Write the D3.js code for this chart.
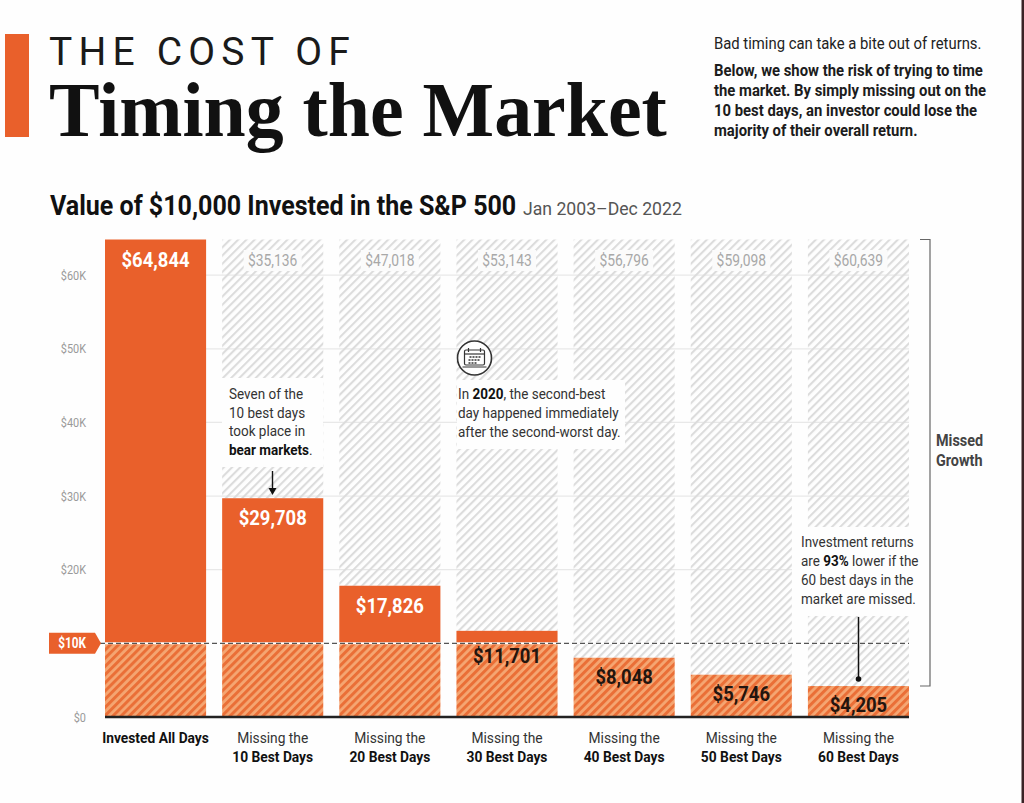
<!DOCTYPE html>
<html>
<head>
<meta charset="utf-8">
<script src="https://cdn.jsdelivr.net/npm/d3@7"></script>
<style>
  html, body { margin: 0; padding: 0; background: #fefefe; }
  svg { display: block; }
  text { font-family: Roboto, sans-serif; }
</style>
</head>
<body>
<div id="chart"></div>
<script>
//chart data
const categories = ["Invested All Days", "Missing the 10 Best Days", "Missing the 20 Best Days", "Missing the 30 Best Days", "Missing the 40 Best Days", "Missing the 50 Best Days", "Missing the 60 Best Days"];
const portfolioValues = [64844, 29708, 17826, 11701, 8048, 5746, 4205];
const missedGrowth = [null, 35136, 47018, 53143, 56796, 59098, 60639];
const yTicks = [0, 10000, 20000, 30000, 40000, 50000, 60000];
const principal = 10000;

//dimensions
const width = 1024;
const height = 803;
const orange = "#e9602b";
const squeeze = 0.84;
const noteSqueeze = 0.9;

let svg = d3.select("#chart").
append("svg").
attr("width", width).
attr("height", height);

//scales
const x = d3.scaleBand().domain(categories).range([105, 909]).paddingInner(0.137);
const y = d3.scaleLinear().domain([0, 64844]).range([717, 239.5]);

//hatch patterns
const defs = svg.append("defs");
function addHatch(id, base, stripe, stripeWidth) {
  const p = defs.append("pattern").
  attr("id", id).
  attr("patternUnits", "userSpaceOnUse").
  attr("width", 5.8).attr("height", 5.8).
  attr("patternTransform", "rotate(45)");
  p.append("rect").attr("width", 5.8).attr("height", 5.8).attr("fill", base);
  p.append("rect").attr("width", stripeWidth).attr("height", 5.8).attr("fill", stripe);
}
addHatch("hatch-grey", "none", "#dcdcdc", 2.1);
addHatch("hatch-orange", "#f5a672", "#ea6f37", 3);

//text helper, squeezes roboto so it reads as a condensed face
function label(parent, px, py, parts, opts = {}) {
  const sx = opts.sx === undefined ? squeeze : opts.sx;
  const t = parent.append("text").
  attr("transform", `translate(${px},${py}) scale(${sx},1)`).
  attr("text-anchor", opts.anchor || "start").
  attr("font-size", opts.size || 15).
  attr("font-weight", opts.weight || 400).
  attr("fill", opts.fill || "#333");
  if (opts.family) t.style("font-family", opts.family);
  if (opts.spacing) t.attr("letter-spacing", opts.spacing);
  [].concat(parts).forEach(p => {
    if (typeof p === "string") t.append("tspan").text(p);
    else t.append("tspan").attr("font-weight", 700).attr("fill", opts.boldFill || "#111").text(p.b);
  });
  return t;
}

//header
svg.append("rect").attr("x", 5).attr("y", 34).attr("width", 24).attr("height", 103).attr("fill", orange);
label(svg, 49, 65, "THE COST OF", { sx: 1, size: 39, spacing: 6.2, fill: "#1a1a1a" });
label(svg, 49, 136, "Timing the Market", { sx: 0.96, size: 79, weight: 700, fill: "#111", family: "'Liberation Serif', serif" });
label(svg, 714, 49, "Bad timing can take a bite out of returns.", { size: 16.5, sx: 0.9, fill: "#222" });
["Below, we show the risk of trying to time", "the market. By simply missing out on the", "10 best days, an investor could lose the", "majority of their overall return."].forEach((line, i) => {
  label(svg, 714, 76 + i * 20, line, { size: 16.5, sx: 0.9, weight: 700, fill: "#1c1c1c" });
});
label(svg, 50, 215, "Value of $10,000 Invested in the S&P 500", { size: 28, sx: 0.894, weight: 700, fill: "#111" });
label(svg, 523, 215, "Jan 2003–Dec 2022", { size: 18, sx: 0.98, fill: "#555" });

//gridlines
svg.append("g").selectAll("line").
data(yTicks.filter(d => d > 0)).
join("line").
attr("x1", 105).attr("x2", 909).
attr("y1", d => y(d)).attr("y2", d => y(d)).
attr("stroke", "#e8e8e8").attr("stroke-width", 1.2);

//y axis
const yAxis = d3.axisLeft(y).
tickValues(yTicks.filter(d => d !== principal)).
tickSize(0).
tickPadding(0).
tickFormat(d => d === 0 ? "$0" : `$${d / 1000}K`);
const yAxisG = svg.append("g").attr("transform", "translate(86,0)").call(yAxis);
yAxisG.select(".domain").remove();
yAxisG.selectAll("text").
attr("font-size", 13).
attr("fill", "#9a9a9a").
style("font-family", "Roboto, sans-serif").
attr("transform", `scale(${squeeze},1)`);

//bars, one group per category
const bars = svg.selectAll(".bar").
data(categories.map((c, i) => ({ category: c, value: portfolioValues[i], missed: missedGrowth[i] }))).
join("g").
attr("class", "bar").
attr("transform", d => `translate(${x(d.category)},0)`);

//hatch for the missed growth
bars.filter(d => d.missed !== null).append("rect").
attr("width", x.bandwidth()).
attr("y", y(64844)).
attr("height", d => y(d.value) - y(64844)).
attr("fill", "url(#hatch-grey)");

//solid part above the initial investment
bars.filter(d => d.value > principal).append("rect").
attr("width", x.bandwidth()).
attr("y", d => y(d.value)).
attr("height", d => y(principal) - y(d.value)).
attr("fill", orange);

//hatched part below the initial investment
bars.append("rect").
attr("width", x.bandwidth()).
attr("y", d => y(Math.min(d.value, principal))).
attr("height", d => y(0) - y(Math.min(d.value, principal))).
attr("fill", "url(#hatch-orange)");

//white backing and labels at the top of the hatch
const missedLabels = bars.filter(d => d.missed !== null);
missedLabels.append("rect").
attr("x", x.bandwidth() / 2 - 29).
attr("width", 58).
attr("y", 250).attr("height", 21).
attr("fill", "#fbfbfb");
missedLabels.each(function (d) {
  label(d3.select(this), x.bandwidth() / 2, 266, `$${d3.format(",")(d.missed)}`, { anchor: "middle", size: 16.5, fill: "#a8a8a8" });
});

//$10K dashed line
svg.append("line").
attr("x1", 100).attr("x2", 909).
attr("y1", y(principal)).attr("y2", y(principal)).
attr("stroke", "#fff").attr("stroke-width", 2);
svg.append("line").
attr("x1", 100).attr("x2", 909).
attr("y1", y(principal)).attr("y2", y(principal)).
attr("stroke", "#555").attr("stroke-width", 1.1).
attr("stroke-dasharray", "5,3");

//$10K tag
svg.append("path").
attr("d", `M49,${y(principal) - 10.5}H95L101,${y(principal)}L95,${y(principal) + 10.5}H49Z`).
attr("fill", orange);
label(svg, 72, y(principal) + 5, `$${principal / 1000}K`, { anchor: "middle", size: 14, weight: 700, fill: "#fff" });

//baseline
svg.append("line").
attr("x1", 105).attr("x2", 909).
attr("y1", y(0)).attr("y2", y(0)).
attr("stroke", "#222").attr("stroke-width", 2.4);

//value labels
bars.each(function (d) {
  const g = d3.select(this);
  const text = `$${d3.format(",")(d.value)}`;
  let ly;
  if (d.value > principal * 1.5) ly = y(d.value) + 27;
  else if (d.value > principal) ly = y(principal) + 20;
  else ly = y(d.value) + 26;
  const light = d.value > principal * 1.5;
  label(g, x.bandwidth() / 2, ly, text, { anchor: "middle", size: 20.5, weight: 700, fill: light ? "#fff" : "#22150f", sx: 0.9 });
});

//category labels
bars.each(function (d) {
  const g = d3.select(this);
  const cx = x.bandwidth() / 2;
  if (d.missed === null) {
    label(g, cx, 743, d.category, { anchor: "middle", size: 15.5, sx: 0.89, weight: 700, fill: "#111" });
  } else {
    const words = d.category.split(" ");
    label(g, cx, 743, words.slice(0, 2).join(" "), { anchor: "middle", size: 15.5, sx: 0.89, fill: "#333" });
    label(g, cx, 762, words.slice(2).join(" "), { anchor: "middle", size: 15.5, sx: 0.89, weight: 700, fill: "#111" });
  }
});

//annotation 1
const bg = "#fefefe";
const notes = svg.append("g");
notes.append("rect").attr("x", 222).attr("y", 378).attr("width", 101).attr("height", 89).attr("fill", bg);
["Seven of the", "10 best days", "took place in"].forEach((line, i) => {
  label(notes, 229, 399 + i * 18.7, line, { size: 15, sx: noteSqueeze, fill: "#333" });
});
label(notes, 229, 455, [{ b: "bear markets" }, "."], { size: 15, sx: noteSqueeze, fill: "#333" });
notes.append("line").attr("x1", 272.5).attr("x2", 272.5).attr("y1", 471).attr("y2", 490).attr("stroke", "#111").attr("stroke-width", 1.4);
notes.append("path").attr("d", "M268.5,488H276.5L272.5,495Z").attr("fill", "#111");

//annotation 2
notes.append("rect").attr("x", 457).attr("y", 380).attr("width", 168).attr("height", 69).attr("fill", bg);
label(notes, 458, 399, ["In ", { b: "2020" }, ", the second-best"], { size: 15, sx: noteSqueeze, fill: "#333" });
label(notes, 458, 418, "day happened immediately", { size: 15, sx: noteSqueeze, fill: "#333" });
label(notes, 458, 437, "after the second-worst day.", { size: 15, sx: noteSqueeze, fill: "#333" });

//calendar icon
const icon = notes.append("g").attr("transform", "translate(474.5,358)").attr("fill", "none").attr("stroke", "#333");
icon.append("circle").attr("r", 17).attr("fill", bg).attr("stroke-width", 1.6);
icon.append("rect").attr("x", -10).attr("y", -8).attr("width", 20).attr("height", 15).attr("rx", 1.5).attr("stroke-width", 1.2);
icon.append("line").attr("x1", -10).attr("x2", 10).attr("y1", -4).attr("y2", -4).attr("stroke-width", 1.2);
icon.append("path").attr("d", "M-6,-10V-6M6,-10V-6M-12,9H12").attr("stroke-width", 1.2);
icon.append("path").attr("d", "M-5,-1H6M-6,2H6M-6,5H3").attr("stroke-width", 1.4).attr("stroke-dasharray", "2,1");

//annotation 3
notes.append("rect").attr("x", 792).attr("y", 527).attr("width", 130).attr("height", 89).attr("fill", bg);
label(notes, 801, 547, "Investment returns", { size: 15, sx: noteSqueeze, fill: "#333" });
label(notes, 801, 566, ["are ", { b: "93%" }, " lower if the"], { size: 15, sx: noteSqueeze, fill: "#333" });
label(notes, 801, 585, "60 best days in the", { size: 15, sx: noteSqueeze, fill: "#333" });
label(notes, 801, 604, "market are missed.", { size: 15, sx: noteSqueeze, fill: "#333" });
notes.append("line").attr("x1", 858.5).attr("x2", 858.5).attr("y1", 617).attr("y2", 679).attr("stroke", "#111").attr("stroke-width", 1.5);
notes.append("circle").attr("cx", 858.5).attr("cy", 679).attr("r", 2.8).attr("fill", "#111");

//missed growth bracket
svg.append("path").
attr("d", `M920,${y(64844)}H930V686H920`).
attr("fill", "none").attr("stroke", "#666").attr("stroke-width", 1.2);
label(svg, 936, 446, "Missed", { size: 16, sx: 0.9, weight: 700, fill: "#444" });
label(svg, 936, 466, "Growth", { size: 16, sx: 0.9, weight: 700, fill: "#444" });

//dark edge of the scanned page
svg.append("rect").attr("x", 1021.5).attr("y", 0).attr("width", 2.5).attr("height", height).attr("fill", "#3a2326");
</script>
</body>
</html>
